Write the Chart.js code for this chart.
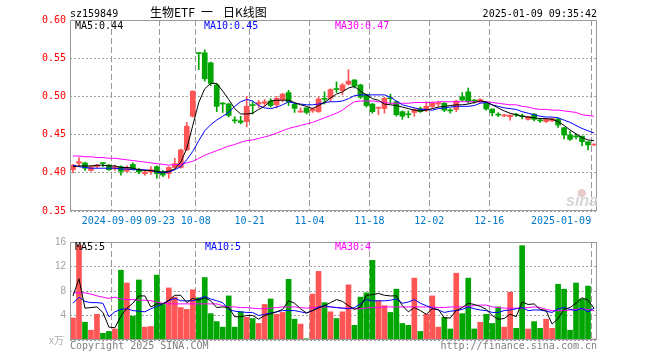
<!DOCTYPE html>
<html><head><meta charset="utf-8">
<script src="https://cdn.jsdelivr.net/npm/chart.js@4.4.1/dist/chart.umd.min.js"></script>
<style>
html,body{margin:0;padding:0;background:#fff;}
#wrap{position:relative;width:660px;height:360px;overflow:hidden;background:#fff;}
#c1{position:absolute;left:0;top:0;}
#c2{position:absolute;left:0;top:232px;}
</style></head><body>
<div id="wrap">
<canvas id="c1" width="660" height="232"></canvas>
<canvas id="c2" width="660" height="128"></canvas>
</div>
<script>
// ---------------- data ----------------
const dates = ['2024-08-29','2024-08-30','2024-09-02','2024-09-03','2024-09-04','2024-09-05','2024-09-06','2024-09-09','2024-09-10','2024-09-11',
'2024-09-12','2024-09-13','2024-09-18','2024-09-19','2024-09-20','2024-09-23','2024-09-24','2024-09-25','2024-09-26','2024-09-27',
'2024-09-30','2024-10-08','2024-10-09','2024-10-10','2024-10-11','2024-10-14','2024-10-15','2024-10-16','2024-10-17','2024-10-18',
'2024-10-21','2024-10-22','2024-10-23','2024-10-24','2024-10-25','2024-10-28','2024-10-29','2024-10-30','2024-10-31','2024-11-01',
'2024-11-04','2024-11-05','2024-11-06','2024-11-07','2024-11-08','2024-11-11','2024-11-12','2024-11-13','2024-11-14','2024-11-15',
'2024-11-18','2024-11-19','2024-11-20','2024-11-21','2024-11-22','2024-11-25','2024-11-26','2024-11-27','2024-11-28','2024-11-29',
'2024-12-02','2024-12-03','2024-12-04','2024-12-05','2024-12-06','2024-12-09','2024-12-10','2024-12-11','2024-12-12','2024-12-13',
'2024-12-16','2024-12-17','2024-12-18','2024-12-19','2024-12-20','2024-12-23','2024-12-24','2024-12-25','2024-12-26','2024-12-27',
'2024-12-30','2024-12-31','2025-01-02','2025-01-03','2025-01-06','2025-01-07','2025-01-08','2025-01-09'];
const dateTicks = ['2024-09-09','2024-09-23','2024-10-08','2024-10-21','2024-11-04','2024-11-18','2024-12-02','2024-12-16','2025-01-09'];
const tickText  = ['2024-09-09','09-23','10-08','10-21','11-04','11-18','12-02','12-16','2025-01-09'];
const priceTicks = [0.35,0.40,0.45,0.50,0.55,0.60];
const volTicks = [0,4,8,12,16];

const open = [.404,.4125,.413,.403,.408,.413,.410,.405,.408,.402,
.411,.404,.399,.401,.408,.401,.399,.407,.407,.430,
.474,.557,.557,.544,.515,.491,.490,.469,.468,.467,
.489,.490,.491,.494,.489,.496,.505,.4896,.4795,.485,
.481,.480,.4965,.4975,.5095,.5075,.516,.5215,.515,.502,
.490,.4845,.484,.498,.493,.480,.4765,.479,.484,.482,
.487,.490,.491,.4815,.483,.4996,.506,.4945,.493,.491,
.4835,.476,.4745,.4735,.4757,.4736,.470,.4769,.4683,.467,
.468,.4704,.459,.4495,.4475,.448,.4407,.4364];
const close = [.410,.4146,.406,.408,.410,.412,.404,.408,.402,.407,
.405,.401,.401,.404,.399,.397,.407,.412,.430,.461,
.507,.556,.523,.517,.487,.490,.475,.468,.466,.487,
.488,.492,.493,.488,.4975,.503,.493,.4844,.480,.479,
.484,.4966,.4962,.509,.509,.515,.520,.5136,.499,.488,
.480,.485,.4975,.497,.476,.474,.476,.483,.480,.487,
.492,.4917,.482,.481,.494,.4952,.493,.494,.496,.4835,
.4787,.4756,.475,.4756,.4755,.4734,.4735,.470,.468,.470,
.471,.4625,.4495,.4438,.447,.4407,.4364,.4377];
const high = [.411,.420,.414,.409,.411,.413,.411,.410,.409,.409,
.413,.406,.402,.408,.409,.403,.408,.419,.431,.466,
.507,.557,.561,.545,.517,.492,.491,.4735,.474,.500,
.493,.495,.496,.497,.500,.504,.508,.491,.485,.485,
.485,.499,.506,.510,.519,.517,.535,.522,.516,.503,
.491,.486,.499,.503,.494,.481,.481,.484,.486,.493,
.493,.493,.492,.484,.495,.505,.511,.496,.497,.491,
.4835,.4787,.4765,.4756,.4778,.4769,.474,.4775,.471,.471,
.4715,.4713,.4595,.4538,.4508,.448,.4407,.4377];
const low = [.400,.409,.403,.402,.406,.408,.403,.403,.397,.401,
.404,.399,.397,.398,.393,.395,.393,.406,.406,.429,
.473,.535,.520,.514,.480,.479,.473,.465,.464,.460,
.477,.485,.488,.486,.485,.493,.488,.479,.479,.477,
.479,.479,.490,.4935,.505,.502,.515,.511,.497,.486,
.478,.476,.478,.490,.474,.470,.472,.474,.479,.480,
.485,.487,.480,.478,.480,.494,.491,.491,.492,.482,
.4743,.4735,.4735,.469,.4735,.4704,.469,.4678,.466,.466,
.467,.4595,.4442,.4425,.4443,.4351,.4298,.4355];

const ma5 = [.408,.409,.409,.409,.410,.410,.409,.409,.407,.407,
.406,.404,.403,.403,.402,.401,.402,.405,.414,.432,
.462,.492,.510,.517,.517,.507,.496,.484,.477,.477,
.478,.483,.487,.494,.495,.495,.495,.492,.489,.487,
.484,.488,.492,.498,.503,.506,.511,.513,.507,.502,
.497,.495,.490,.489,.488,.486,.484,.482,.481,.482,
.484,.486,.487,.488,.489,.489,.490,.492,.494,.493,
.489,.485,.481,.478,.476,.474,.473,.472,.471,.471,
.470,.467,.462,.456,.451,.446,.443,.442];
const ma10 = [.410,.408,.407,.406,.406,.406,.406,.406,.405,.405,
.404,.404,.404,.403,.401,.400,.401,.404,.408,.417,
.428,.442,.455,.463,.469,.474,.479,.487,.493,.496,
.494,.488,.485,.484,.486,.489,.493,.491,.490,.489,
.489,.490,.492,.493,.493,.494,.497,.501,.502,.502,
.502,.502,.502,.499,.494,.489,.487,.485,.483,.483,
.482,.484,.485,.486,.487,.487,.487,.488,.491,.492,
.489,.487,.485,.484,.483,.480,.478,.476,.474,.473,
.473,.472,.469,.466,.462,.458,.455,.452];
const ma30 = [.422,.422,.421,.421,.420,.420,.419,.419,.418,.417,
.416,.415,.414,.413,.412,.411,.410,.411,.411,.413,
.415,.419,.423,.426,.429,.432,.435,.437,.440,.442,
.443,.445,.447,.449,.452,.455,.458,.460,.462,.464,
.466,.469,.472,.475,.478,.482,.488,.493,.494,.494,
.494,.493,.492,.491,.491,.491,.491,.492,.492,.492,
.492,.493,.493,.493,.493,.493,.493,.493,.493,.493,
.492,.491,.490,.489,.489,.487,.486,.484,.483,.483,
.482,.482,.481,.480,.479,.476,.475,.474];

const volume = [3.6,15.5,2.9,1.6,4.2,1.1,1.4,1.8,11.4,9.3,
3.9,9.8,2.1,2.2,10.6,5.8,8.5,7.0,5.3,5.0,
8.2,6.9,10.2,4.3,3.0,2.1,7.2,2.1,4.6,3.7,
3.5,2.7,5.8,6.7,4.2,4.5,9.9,3.4,2.6,0.2,
7.5,11.2,6.1,4.6,3.5,4.6,9.0,2.4,7.0,7.7,
13.0,6.4,5.6,4.5,8.3,2.7,2.4,10.1,1.4,4.2,
7.2,2.1,3.7,1.8,10.9,4.3,10.1,1.8,2.9,4.2,
2.7,5.4,2.1,7.8,1.9,15.4,1.8,3.0,1.9,3.4,
1.9,9.1,8.3,1.6,9.3,6.7,8.8,0.16];
const vma5 = [7.2,10.0,5.2,5.3,5.4,4.5,2.1,2.0,3.9,5.2,
6.0,7.2,7.2,5.4,5.9,5.9,6.5,7.3,7.3,6.1,
6.8,6.5,6.9,6.4,5.3,5.4,5.3,3.8,3.8,4.0,
4.0,3.4,4.0,4.3,4.6,5.0,6.4,6.0,5.1,4.4,
4.8,5.2,5.6,6.1,6.6,6.3,5.6,5.0,5.4,7.3,
7.4,7.6,7.3,7.2,7.2,5.6,4.6,5.3,4.8,4.2,
5.1,5.0,3.6,3.6,4.8,5.3,6.0,5.8,5.5,5.0,
4.0,3.4,3.5,4.2,3.8,6.2,5.8,5.9,5.0,4.8,
2.6,3.5,5.0,5.3,6.0,6.9,6.5,5.2];
const vma10 = [6.0,7.0,6.3,6.1,6.1,6.0,3.8,4.6,5.0,5.1,
4.8,4.7,4.6,5.1,5.5,5.9,6.4,6.8,6.4,6.4,
6.4,6.7,7.1,6.7,6.4,6.1,5.0,4.7,4.6,4.5,
4.5,4.0,4.2,4.4,4.6,4.8,4.8,4.8,4.6,4.4,
4.8,5.4,5.6,5.4,5.3,5.2,5.1,5.3,5.9,6.6,
6.4,6.4,6.4,6.5,6.7,6.0,6.2,6.6,6.0,5.6,
5.2,4.9,4.5,4.7,4.8,5.0,5.4,5.1,4.9,4.8,
4.5,4.5,4.8,4.9,5.1,5.3,4.8,4.9,4.9,4.7,
4.5,5.1,5.3,5.0,4.8,5.2,4.6,5.2];
const vma30 = [7.7,7.7,7.7,7.5,7.2,7.0,6.8,7.0,6.7,6.6,
6.6,6.5,6.5,6.4,6.2,6.0,5.9,5.9,5.9,5.9,
5.9,5.9,5.9,5.9,5.9,5.6,5.4,5.4,5.3,5.3,
5.2,5.1,5.1,5.2,5.3,5.4,5.4,5.4,5.3,5.2,
5.3,5.3,5.4,5.4,5.3,5.2,5.2,5.1,5.1,5.2,
5.3,5.3,5.4,5.4,5.4,5.4,5.4,5.4,5.4,5.4,
5.4,5.3,5.3,5.4,5.4,5.4,5.5,5.6,5.7,5.7,
5.4,5.3,5.2,5.2,5.2,5.2,5.3,5.4,5.3,5.0,
4.8,4.8,4.8,4.9,5.0,5.1,5.0,4.8];

// ---------------- styling ----------------
const UP = '#ff5555', DOWN = '#00a600';
const VGRID = '#999999', HGRID = '#a0a0a0', FRAME = '#9a9a9a';
const C_MA5 = '#000000', C_MA10 = '#0000ff', C_MA30 = '#ff00ff';
const MONO = '"DejaVu Sans Mono", "Liberation Mono", monospace';
const CJK = '12px "Noto Sans CJK SC", sans-serif';
Chart.defaults.font.family = MONO;

const n = dates.length;
const gridIdx = dateTicks.map(d => dates.indexOf(d));
const labelAt = {};
dateTicks.forEach((d, k) => {
  let i = dates.indexOf(d);
  if (i === n - 1) i -= 5;          // last label kept inside the frame
  labelAt[i] = tickText[k];
});
const xGridColors = dates.map((d, i) => gridIdx.indexOf(i) >= 0 ? VGRID : 'rgba(255,255,255,0)');
xGridColors.push('rgba(255,255,255,0)');
const candleColor = dates.map((d, i) => close[i] >= open[i] ? UP : DOWN);

function xAxis(showLabels) {
  return {
    type: 'category', offset: true,
    grid: { offset: true, drawTicks: false, color: xGridColors },
    border: { display: false, dash: [6, 3] },
    ticks: { display: showLabels, autoSkip: false, maxRotation: 0, minRotation: 0,
      padding: 4, labelOffset: -3, color: '#0078c8', font: { family: MONO, size: 10 },
      callback: (v, i) => labelAt[i] || '' },
    afterFit: s => { s.height = showLabels ? 20 : 0; }
  };
}

const framePlugin = {
  id: 'frame',
  afterDraw(chart, args, opts) {
    const { ctx, chartArea: a } = chart;
    ctx.save();
    ctx.strokeStyle = FRAME; ctx.lineWidth = 1;
    ctx.strokeRect(Math.round(a.left) + 0.5, Math.round(a.top) + 0.5,
      Math.round(a.right - a.left) - 1, Math.round(a.bottom - a.top) - 1);
    ctx.restore();
    (opts.texts || []).forEach(t => {
      ctx.save();
      ctx.font = t.font || ('10px ' + MONO);
      ctx.fillStyle = t.color || '#000';
      ctx.textAlign = t.align || 'left';
      ctx.textBaseline = 'alphabetic';
      ctx.fillText(t.text, t.x, t.y);
      ctx.restore();
    });
  }
};

const baseOpts = {
  responsive: false, animation: false, devicePixelRatio: 1, events: [],
  plugins: { legend: { display: false }, tooltip: { enabled: false } }
};

// ---------------- price chart ----------------
new Chart(document.getElementById('c1'), {
  type: 'bar',
  data: {
    labels: dates,
    datasets: [
      { type: 'line', data: ma5, borderColor: C_MA5, borderWidth: 1, pointRadius: 0, tension: 0, order: 0 },
      { type: 'line', data: ma10, borderColor: C_MA10, borderWidth: 1, pointRadius: 0, tension: 0, order: 0 },
      { type: 'line', data: ma30, borderColor: C_MA30, borderWidth: 1, pointRadius: 0, tension: 0, order: 0 },
      { data: open.map((o, i) => [o, close[i]]), backgroundColor: candleColor, barThickness: 5,
        grouped: false, minBarLength: 1, order: 2 },
      { data: low.map((l, i) => [l, high[i]]), backgroundColor: candleColor, barThickness: 1,
        grouped: false, minBarLength: 1, order: 3 }
    ]
  },
  options: Object.assign({}, baseOpts, {
    layout: { padding: { left: 0, right: 63, top: 20, bottom: 1 } },
    scales: {
      x: xAxis(true),
      y: {
        min: priceTicks[0], max: priceTicks[priceTicks.length - 1],
        afterBuildTicks: s => { s.ticks = priceTicks.map(v => ({ value: v })); },
        grid: { drawTicks: false, color: HGRID },
        border: { display: false, dash: [2, 2] },
        ticks: { padding: 4, color: '#ff0000', font: { family: MONO, size: 10 }, callback: v => Number(v).toFixed(2) },
        afterFit: s => { s.width = 70; }
      }
    },
    plugins: Object.assign({}, baseOpts.plugins, {
      frame: { texts: [
        { text: 'sz159849', x: 70, y: 17 },
        { text: '生物ETF', x: 150, y: 17, font: CJK },
        { text: '一', x: 201, y: 17, font: CJK },
        { text: '日K线图', x: 223, y: 17, font: CJK },
        { text: '2025-01-09 09:35:42', x: 597, y: 17, align: 'right' },
        { text: 'MA5:' + ma5[n - 1].toFixed(2), x: 75, y: 29, color: C_MA5 },
        { text: 'MA10:' + ma10[n - 1].toFixed(2), x: 204, y: 29, color: C_MA10 },
        { text: 'MA30:' + ma30[n - 1].toFixed(2), x: 335, y: 29, color: C_MA30 },
        { text: '●', x: 577, y: 196, color: '#e8cccc', font: '11px "DejaVu Sans", sans-serif' },
        { text: 'sina', x: 566, y: 206, color: '#d6d6d6', font: 'italic bold 16px "Liberation Sans", Arial, sans-serif' }
      ] }
    })
  }),
  plugins: [framePlugin]
});

// ---------------- volume chart ----------------
new Chart(document.getElementById('c2'), {
  type: 'bar',
  data: {
    labels: dates,
    datasets: [
      { type: 'line', data: vma5, borderColor: C_MA5, borderWidth: 1, pointRadius: 0, tension: 0, order: 0 },
      { type: 'line', data: vma10, borderColor: C_MA10, borderWidth: 1, pointRadius: 0, tension: 0, order: 0 },
      { type: 'line', data: vma30, borderColor: C_MA30, borderWidth: 1, pointRadius: 0, tension: 0, order: 0 },
      { data: volume, backgroundColor: candleColor, barThickness: 5, grouped: false, minBarLength: 1, order: 2 }
    ]
  },
  options: Object.assign({}, baseOpts, {
    layout: { padding: { left: 0, right: 63, top: 8, bottom: 20 } },
    scales: {
      x: xAxis(false),
      y: {
        min: volTicks[0], max: volTicks[volTicks.length - 1],
        afterBuildTicks: s => { s.ticks = volTicks.map(v => ({ value: v })); },
        grid: { drawTicks: false, color: HGRID },
        border: { display: false, dash: [2, 2] },
        ticks: { padding: 4, color: '#a0a0a0', font: { family: '"Liberation Sans", Arial, sans-serif', size: 10 },
          callback: v => v === 0 ? '' : String(v) },
        afterFit: s => { s.width = 70; }
      }
    },
    plugins: Object.assign({}, baseOpts.plugins, {
      frame: { texts: [
        { text: 'MA5:' + Math.floor(vma5[n - 1]), x: 75, y: 18, color: C_MA5 },
        { text: 'MA10:' + Math.floor(vma10[n - 1]), x: 205, y: 18, color: C_MA10 },
        { text: 'MA30:' + Math.floor(vma30[n - 1]), x: 335, y: 18, color: C_MA30 },
        { text: 'x万', x: 49, y: 112, color: '#b0b0b0', font: '10px "Noto Sans CJK SC", sans-serif' },
        { text: 'Copyright 2025 SINA.COM', x: 70, y: 117, color: '#808080' },
        { text: 'http://finance.sina.com.cn', x: 597, y: 117, color: '#808080', align: 'right' }
      ] }
    })
  }),
  plugins: [framePlugin]
});
</script>
</body></html>
